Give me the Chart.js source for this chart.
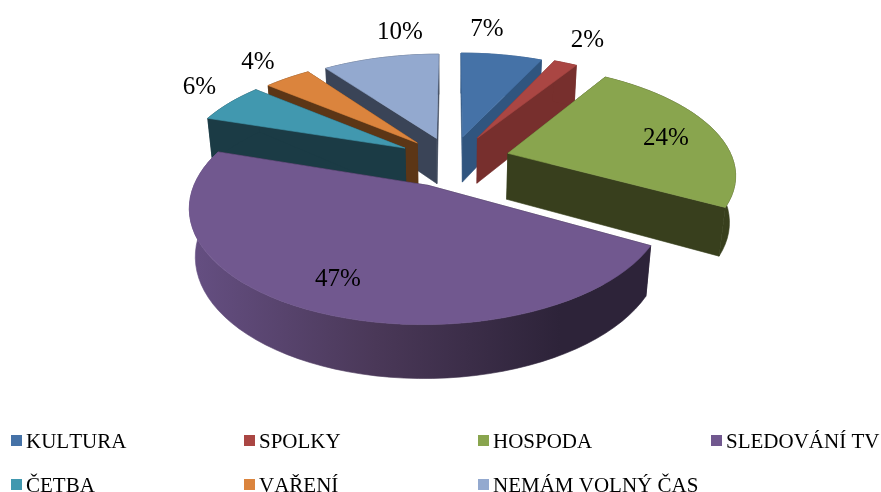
<!DOCTYPE html>
<html><head><meta charset="utf-8">
<script src="https://cdn.jsdelivr.net/npm/chart.js@4"></script>
<style>html,body{margin:0;padding:0;background:#fff;overflow:hidden}canvas{display:block}</style>
</head><body><canvas id="c" width="881" height="492"></canvas>
<script>
const categories=["KULTURA","SPOLKY","HOSPODA","SLEDOVÁNÍ TV","ČETBA","VAŘENÍ","NEMÁM VOLNÝ ČAS"];
const shares=[7,2,24,47,6,4,10];
const shareLabels=["7%","2%","24%","47%","6%","4%","10%"];
const topColors=["#4572A7","#AA4643","#89A54E","#71588F","#4198AF","#DB843D","#93A9CF"];
const wallColors=["#30557F","#772F2D","#383F1D","#2D2339","#1B3B45","#5C3616","#3A4457"];
const explode=[0.233,0.247,0.261,0.251,0.241,0.229,0.223];
const drawOrder=[0,6,1,5,4,2,3];
const labelAnchors=[[487,29],[587.5,40],[666,138],[338,279],[199.5,87],[258,62],[400,32]];
const legendCols=[11,244,478,711],legendRows=[435,479];
const cam={cx:451.608,cy:160.093,F:225.089,tilt:0.488,D:5.157,h:0.238};
function proj(X,Y,Z){const c=Math.cos(cam.tilt),s=Math.sin(cam.tilt),k=cam.D/(cam.D-(Y*c+Z*s));
 return [cam.cx+cam.F*X*k,cam.cy-cam.F*(-Y*s+Z*c)*k];}
function pt(i,a,phi,r,bottom){const m=(a.startAngle+a.endAngle)/2,e=explode[i];
 return proj(e*Math.cos(m)+r*Math.cos(phi),e*Math.sin(m)+r*Math.sin(phi),bottom?-cam.h:0);}
const pie3d={id:'pie3d',beforeDatasetsDraw(chart){
 const arcs=chart.getDatasetMeta(0).data,ctx=chart.ctx;
 const poly=(pts,col)=>{ctx.beginPath();pts.forEach((q,n)=>n?ctx.lineTo(q[0],q[1]):ctx.moveTo(q[0],q[1]));ctx.closePath();ctx.fillStyle=col;ctx.strokeStyle=col;ctx.lineWidth=.6;ctx.lineJoin='round';ctx.fill();ctx.stroke();};
 for(const i of drawOrder){const a=arcs[i],A=pt(i,a,0,0,0),B=pt(i,a,0,0,1);
  const n=Math.max(4,Math.ceil((a.endAngle-a.startAngle)*60/Math.PI));const T=[],U=[];
  for(let j=0;j<=n;j++){const f=a.startAngle+(a.endAngle-a.startAngle)*j/n;T.push(pt(i,a,f,1,0));U.push(pt(i,a,f,1,1));}
  poly([A,T[0],U[0],B],wallColors[i]);poly([A,T[n],U[n],B],wallColors[i]);
  let col=wallColors[i];
  if(i==3){col=ctx.createLinearGradient(191,0,560,0);col.addColorStop(0,'#654F82');col.addColorStop(.5,'#4A3858');col.addColorStop(1,'#2D2339');}
  poly(T.concat(U.slice().reverse()),col);
  poly([A].concat(T),topColors[i]);
 }
 return false;},
 afterDraw(chart){const ctx=chart.ctx;ctx.save();ctx.fillStyle='#000';ctx.fontKerning='none';
  ctx.font='25px "Liberation Serif"';ctx.textAlign='center';ctx.textBaseline='middle';
  shareLabels.forEach((t,i)=>ctx.fillText(t,labelAnchors[i][0],labelAnchors[i][1]));
  ctx.font='21px "Liberation Serif"';ctx.textAlign='left';ctx.textBaseline='alphabetic';
  categories.forEach((t,i)=>{const x=legendCols[i%4],y=legendRows[i<4?0:1];
   ctx.fillStyle=topColors[i];ctx.fillRect(x,y,11,11);ctx.fillStyle='#000';ctx.fillText(t,x+15,y+13);});
  ctx.restore();}};
new Chart(document.getElementById('c'),{type:'pie',plugins:[pie3d],
 data:{labels:categories,datasets:[{data:shares,backgroundColor:topColors}]},
 options:{responsive:false,animation:false,rotation:0,plugins:{legend:{display:false},tooltip:{enabled:false}}}});
</script></body></html>
